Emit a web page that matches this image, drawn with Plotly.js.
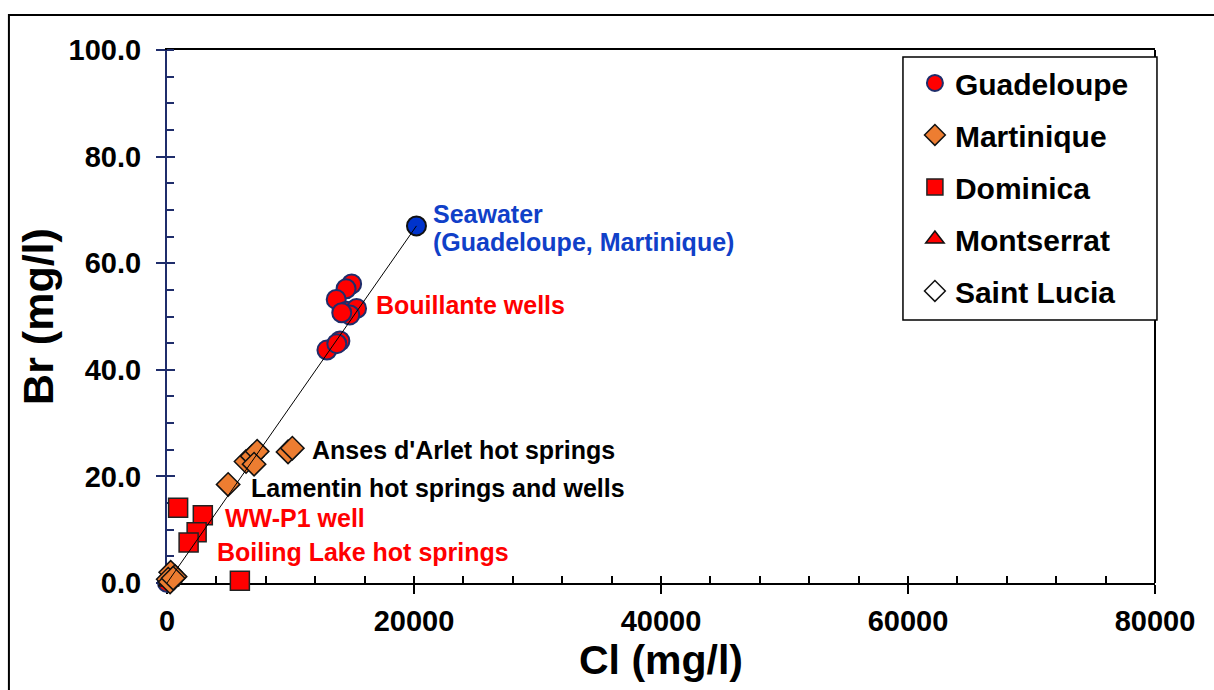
<!DOCTYPE html>
<html>
<head>
<meta charset="utf-8">
<script src="https://cdn.plot.ly/plotly-3.0.1.min.js"></script>
<style>html,body{margin:0;padding:0;background:#fff;}#chart{width:1214px;height:690px;}</style>
</head>
<body>
<div id="chart"></div>
<script>
// ---- data (Cl, Br in mg/l) ----
const guadCl = [14950, 14500, 13700, 14550, 15350, 14800, 14150, 14000, 12950, 13750, 30];
const guadBr = [56.1, 55.2, 53.2, 51.0, 51.5, 50.3, 50.7, 45.4, 43.7, 44.9, 0.1];
const martCl = [9800, 10150, 6400, 6900, 7300, 7050, 4950, 300, 650, 100, 250, 500];
const martBr = [24.6, 25.3, 22.8, 23.8, 24.7, 22.3, 18.5, 2.0, 1.2, 0.7, 0.2, 0.9];
const domCl = [900, 2900, 2400, 1750, 5900];
const domBr = [14.1, 12.7, 9.5, 7.6, 0.4];
const montCl = [150];
const montBr = [0.3];
const stlCl = [200, 350];
const stlBr = [0.5, 1.0];
const seaCl = [20200];
const seaBr = [67.0];
const lineCl = [0, seaCl[0]];
const lineBr = [0, seaBr[0]];
const xTickVals = [0, 20000, 40000, 60000, 80000];
const yTickVals = [0, 20, 40, 60, 80, 100];

const FONT = 'Liberation Sans, Arial, Helvetica, sans-serif';
const NAVY = '#1f2d6b';
const RED = '#ff0000';
const ORANGE = '#ed7d31';
const BLUE = '#1040c8';

const traces = [
  {name:'Guadeloupe', x:guadCl, y:guadBr, type:'scatter', mode:'markers', cliponaxis:false,
   legendrank:1, legendgroup:'g1',
   marker:{symbol:'circle', size:19, color:RED, line:{color:NAVY, width:2}}},
  {name:'Montserrat', x:montCl, y:montBr, type:'scatter', mode:'markers', cliponaxis:false,
   legendrank:4, legendgroup:'g4',
   marker:{symbol:'triangle-up', size:18, color:RED, line:{color:'#111', width:1.5}}},
  {name:'Saint Lucia', x:stlCl, y:stlBr, type:'scatter', mode:'markers', cliponaxis:false,
   legendrank:5, legendgroup:'g5',
   marker:{symbol:'diamond', size:17, color:'#ffffff', line:{color:'#111', width:1.5}}},
  {name:'Dominica', x:domCl, y:domBr, type:'scatter', mode:'markers', cliponaxis:false,
   legendrank:3, legendgroup:'g3',
   marker:{symbol:'square', size:19, color:RED, line:{color:'#222', width:1.5}}},
  {name:'Martinique', x:martCl, y:martBr, type:'scatter', mode:'markers', cliponaxis:false,
   legendrank:2, legendgroup:'g2',
   marker:{symbol:'diamond', size:18, color:ORANGE, line:{color:'#111', width:1.5}}},
  {name:'Seawater', x:seaCl, y:seaBr, type:'scatter', mode:'markers', cliponaxis:false,
   showlegend:false,
   marker:{symbol:'circle', size:19, color:'#0033cc', line:{color:'#111', width:2}}},
  {name:'Seawater dilution', x:lineCl, y:lineBr, type:'scatter', mode:'lines', cliponaxis:false,
   showlegend:false, line:{color:'#000', width:1}},
  {x:[], y:[], xaxis:'x2', yaxis:'y2', type:'scatter', mode:'markers', showlegend:false, hoverinfo:'skip'}
];

function ann(text, x, y, color){
  return {text:text, x:x, y:y, xref:'x', yref:'y', xanchor:'left', yanchor:'middle', showarrow:false,
          font:{family:FONT, size:25, color:color, weight:'bold'}};
}

const layout = {
  width:1214, height:690,
  margin:{l:167, r:59, t:50, b:107},
  paper_bgcolor:'#ffffff', plot_bgcolor:'#ffffff',
  font:{family:FONT, color:'#000', weight:'bold'},
  showlegend:true,
  xaxis:{range:[0,80000], tickvals:xTickVals, tickformat:'d', ticks:'outside', ticklen:9, tickwidth:2,
         tickcolor:'#000', showline:true, linecolor:'#000', linewidth:2, mirror:true,
         showgrid:false, zeroline:false, layer:'below traces',
         tickfont:{family:FONT, size:29, color:'#000', weight:'bold'}, ticklabelstandoff:2,
         minor:{dtick:4000, tick0:0, ticks:'inside', ticklen:7, tickwidth:2, tickcolor:'#000', showgrid:false},
         title:{text:'Cl (mg/l)', font:{family:FONT, size:41, color:'#000', weight:'bold'}, standoff:10}},
  yaxis:{range:[0,100], tickvals:yTickVals, tickformat:'.1f', ticks:'outside', ticklen:9, tickwidth:2,
         tickcolor:NAVY, showline:true, linecolor:NAVY, linewidth:2,
         showgrid:false, zeroline:false, layer:'below traces',
         tickfont:{family:FONT, size:29, color:'#000', weight:'bold'}, ticklabelstandoff:9,
         minor:{dtick:5, tick0:0, ticks:'inside', ticklen:7, tickwidth:2, tickcolor:NAVY, showgrid:false},
         title:{text:'Br (mg/l)', font:{family:FONT, size:43, color:'#000', weight:'bold'}, standoff:2}},
  xaxis2:{overlaying:'x', anchor:'y', range:[0,80000], tickvals:xTickVals, ticks:'inside', ticklen:7, tickwidth:2,
          tickcolor:'#000', showticklabels:false, showline:false, showgrid:false, zeroline:false},
  yaxis2:{overlaying:'y', anchor:'x', side:'left', range:[0,100], tickvals:yTickVals, ticks:'inside', ticklen:8, tickwidth:2,
          tickcolor:NAVY, showticklabels:false, showline:false, showgrid:false, zeroline:false},
  legend:{x:0.757, xanchor:'left', y:0.987, yanchor:'top', bgcolor:'rgba(0,0,0,0)', borderwidth:0,
          font:{family:FONT, size:30, color:'#000', weight:'bold'}, tracegroupgap:10, itemsizing:'trace'},
  shapes:[
    {type:'rect', xref:'paper', yref:'paper', x0:-0.16, x1:1.2, y0:-0.4, y1:1.0657,
     line:{color:'#000', width:2}, fillcolor:'rgba(0,0,0,0)', layer:'below'},
    {type:'line', xref:'paper', yref:'paper', x0:1, x1:1, y0:0, y1:1, line:{color:'#000', width:2}},
    {type:'rect', xref:'paper', yref:'paper', x0:0.7449, x1:1.002, y0:0.4934, y1:0.9869,
     line:{color:'#000', width:1.5}, fillcolor:'#ffffff', layer:'above'}
  ],
  annotations:[
    ann('Seawater', 21377, 69.3, BLUE),
    ann('(Guadeloupe, Martinique)', 21377, 63.9, BLUE),
    ann('Bouillante wells', 16761, 52.2, RED),
    ann("Anses d'Arlet hot springs", 11579, 24.9, '#000'),
    ann('Lamentin hot springs and wells', 6640, 17.8, '#000'),
    ann('WW-P1 well', 4534, 12.2, RED),
    ann('Boiling Lake hot springs', 3887, 5.8, RED)
  ]
};

Plotly.newPlot('chart', traces, layout, {staticPlot:true, displayModeBar:false});
</script>
</body>
</html>
